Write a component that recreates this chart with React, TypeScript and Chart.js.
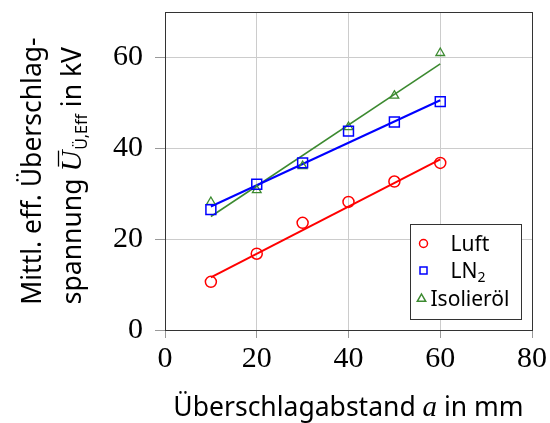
import React, { useEffect, useRef } from 'react';
import { Chart, registerables } from 'chart.js';

Chart.register(...registerables);

// ---- data ----
const distances = [10, 20, 30, 40, 50, 60];
const luft = [10.6, 16.8, 23.6, 28.2, 32.7, 36.8];
const ln2 = [26.5, 32.1, 36.8, 43.8, 45.8, 50.3];
const oel = [28.2, 30.8, 36.1, 44.7, 51.6, 61.0];
const fitX = [10, 60];
const luftFit = [11.6, 37.6];
const ln2Fit = [27.2, 50.6];
const oelFit = [25.0, 58.6];
const xTickValues = [0, 20, 40, 60, 80];
const yTickValues = [0, 20, 40, 60];
const seriesNames = ['Luft', 'LN', 'Isolieröl'];
const ln2Sub = '2';
const xTitleParts = ['Überschlagabstand ', 'a', ' in mm'];
const yTitleLine1 = 'Mittl. eff. Überschlag-';
const yTitleParts = ['spannung ', 'U', 'Ü,Eff', ' in kV'];

const RED = '#ff0000';
const BLUE = '#0000ff';
const GREEN = '#3c8a30';
const SANS = '"Noto Sans", "Open Sans", sans-serif';
const SERIF = '"Liberation Serif", serif';

const pts = (xs: number[], ys: number[]) => xs.map((x, i) => ({ x, y: ys[i] }));

const customPlugin = {
  id: 'customDecor',
  afterDraw(chart: any) {
    const { ctx, chartArea: a } = chart;
    ctx.save();
    // full frame
    ctx.strokeStyle = '#333';
    ctx.lineWidth = 1;
    ctx.strokeRect(Math.round(a.left) + 0.5, Math.round(a.top) + 0.5, Math.round(a.right - a.left), Math.round(a.bottom - a.top));

    // legend
    const bx = Math.round(a.right) - 122 + 0.5;
    const by = Math.round(a.bottom) - 106 + 0.5;
    ctx.fillStyle = '#fff';
    ctx.fillRect(bx, by, 111, 95);
    ctx.strokeStyle = '#333';
    ctx.strokeRect(bx, by, 111, 95);

    const rows = [19, 46, 74];
    ctx.lineWidth = 1.5;
    // circle
    ctx.strokeStyle = RED;
    ctx.beginPath();
    ctx.arc(bx + 13, by + rows[0], 4, 0, Math.PI * 2);
    ctx.stroke();
    // square
    ctx.strokeStyle = BLUE;
    ctx.strokeRect(bx + 9.5, by + rows[1] - 3.5, 7, 7);
    // triangle
    ctx.strokeStyle = GREEN;
    ctx.beginPath();
    const tx = bx + 11, ty = by + rows[2];
    ctx.moveTo(tx, ty - 4.5);
    ctx.lineTo(tx + 4.2, ty + 2.8);
    ctx.lineTo(tx - 4.2, ty + 2.8);
    ctx.closePath();
    ctx.stroke();

    ctx.fillStyle = '#000';
    ctx.textBaseline = 'alphabetic';
    ctx.textAlign = 'left';
    ctx.font = `21px ${SANS}`;
    ctx.fillText(seriesNames[0], bx + 40, by + rows[0] + 7.5);
    ctx.fillText(seriesNames[1], bx + 40, by + rows[1] + 7.5);
    const lnW = ctx.measureText(seriesNames[1]).width;
    ctx.font = `14px ${SANS}`;
    ctx.fillText(ln2Sub, bx + 40 + lnW, by + rows[1] + 11.5);
    ctx.font = `21px ${SANS}`;
    ctx.fillText(seriesNames[2], bx + 20, by + rows[2] + 7.5);

    // x title
    const cx = (a.left + a.right) / 2;
    const xBase = a.bottom + 86;
    const sansX = `26.5px ${SANS}`;
    const serifI = `italic 29px ${SERIF}`;
    ctx.font = sansX;
    const w0 = ctx.measureText(xTitleParts[0]).width;
    const w2 = ctx.measureText(xTitleParts[2]).width;
    ctx.font = serifI;
    const w1 = ctx.measureText(xTitleParts[1]).width;
    let x = cx - (w0 + w1 + w2) / 2;
    ctx.font = sansX;
    ctx.fillText(xTitleParts[0], x, xBase);
    x += w0;
    ctx.font = serifI;
    ctx.fillText(xTitleParts[1], x, xBase);
    x += w1;
    ctx.font = sansX;
    ctx.fillText(xTitleParts[2], x, xBase);

    // y title (rotated)
    const cy = (a.top + a.bottom) / 2;
    ctx.save();
    ctx.translate(41, cy);
    ctx.rotate(-Math.PI / 2);
    ctx.font = sansX;
    ctx.textAlign = 'center';
    ctx.fillText(yTitleLine1, 0, 0);
    ctx.restore();

    ctx.save();
    ctx.translate(81, cy + 5);
    ctx.rotate(-Math.PI / 2);
    ctx.textAlign = 'left';
    const subF = `16px ${SANS}`;
    const uF = `italic 29px ${SERIF}`;
    ctx.font = sansX;
    const p0 = ctx.measureText(yTitleParts[0]).width;
    const p3 = ctx.measureText(yTitleParts[3]).width;
    ctx.font = uF;
    const p1 = ctx.measureText(yTitleParts[1]).width;
    ctx.font = subF;
    const p2 = ctx.measureText(yTitleParts[2]).width;
    let lx = -(p0 + p1 + p2 + p3) / 2;
    ctx.font = sansX;
    ctx.fillText(yTitleParts[0], lx, 0);
    lx += p0;
    ctx.font = uF;
    ctx.fillText(yTitleParts[1], lx, 0);
    ctx.strokeStyle = '#000';
    ctx.lineWidth = 1.3;
    ctx.beginPath();
    ctx.moveTo(lx + 5, -22.5);
    ctx.lineTo(lx + p1, -22.5);
    ctx.stroke();
    lx += p1 + 1;
    ctx.font = subF;
    ctx.fillText(yTitleParts[2], lx, 6);
    lx += p2;
    ctx.font = sansX;
    ctx.fillText(yTitleParts[3], lx, 0);
    ctx.restore();

    ctx.restore();
  },
};

export default function App() {
  const ref = useRef<HTMLCanvasElement>(null);
  useEffect(() => {
    if (!ref.current) return;
    const hollow = 'rgba(0,0,0,0)';
    const chart = new Chart(ref.current, {
      type: 'scatter',
      data: {
        datasets: [
          { label: 'Luft', data: pts(distances, luft), pointStyle: 'circle', pointRadius: 5.5, borderColor: RED, backgroundColor: hollow, borderWidth: 1.5, showLine: false },
          { label: 'LN2', data: pts(distances, ln2), pointStyle: 'rect', pointRadius: 7, borderColor: BLUE, backgroundColor: hollow, borderWidth: 1.5, showLine: false },
          { label: 'Isolieröl', data: pts(distances, oel), pointStyle: 'triangle', pointRadius: 5, borderColor: GREEN, backgroundColor: hollow, borderWidth: 1.3, showLine: false },
          { label: 'Luft fit', data: pts(fitX, luftFit), showLine: true, pointRadius: 0, borderColor: RED, borderWidth: 2 },
          { label: 'LN2 fit', data: pts(fitX, ln2Fit), showLine: true, pointRadius: 0, borderColor: BLUE, borderWidth: 2 },
          { label: 'Öl fit', data: pts(fitX, oelFit), showLine: true, pointRadius: 0, borderColor: GREEN, borderWidth: 1.6 },
        ],
      },
      options: {
        animation: false,
        responsive: false,
        layout: { padding: { left: 0, top: 0, right: 18, bottom: 0 } },
        plugins: { legend: { display: false }, tooltip: { enabled: false } },
        scales: {
          x: {
            type: 'linear',
            min: 0,
            max: 80,
            afterBuildTicks: (s: any) => { s.ticks = xTickValues.map((v) => ({ value: v })); },
            afterFit: (s: any) => { s.height = 93; },
            ticks: { font: { family: SERIF, size: 30 }, color: '#000', padding: 3 },
            grid: { color: '#cccccc', tickColor: '#999', tickLength: 8, lineWidth: 1 },
            border: { display: false },
          },
          y: {
            type: 'linear',
            min: 0,
            max: 70,
            afterBuildTicks: (s: any) => { s.ticks = yTickValues.map((v) => ({ value: v })); },
            afterFit: (s: any) => { s.width = 165; },
            ticks: { font: { family: SERIF, size: 30, lineHeight: 0.01 }, color: '#000', padding: 12 },
            grid: { color: '#cccccc', tickColor: '#999', tickLength: 10, lineWidth: 1 },
            border: { display: false },
          },
        },
      },
      plugins: [customPlugin],
    });
    return () => chart.destroy();
  }, []);
  return (
    <div style={{ position: 'absolute', left: 0, top: 0, width: 550, height: 423 }}>
      <canvas ref={ref} width={550} height={423} style={{ display: 'block' }} />
    </div>
  );
}
